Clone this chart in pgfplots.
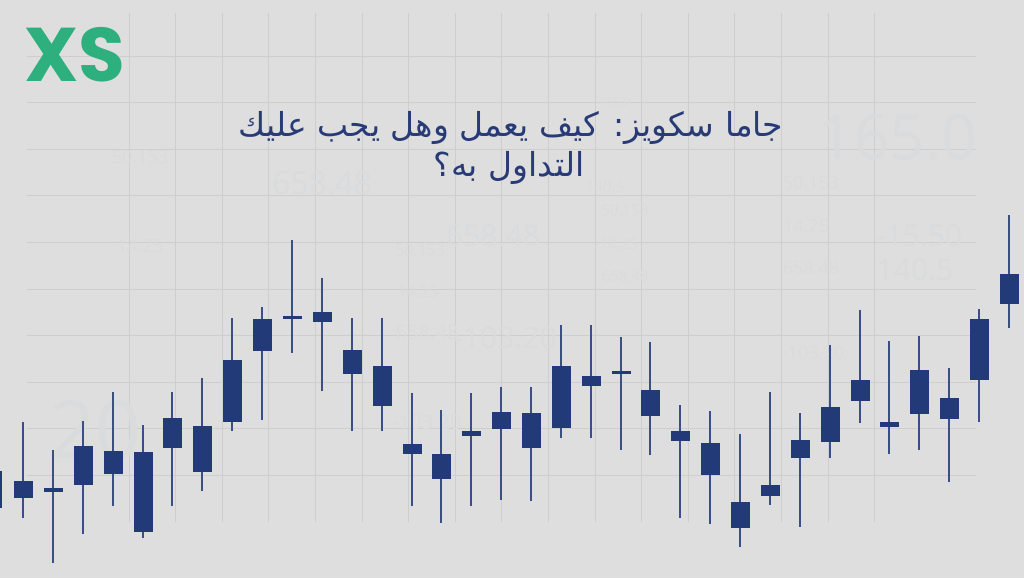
\documentclass[border=0pt]{standalone}
\usepackage{pgfplots}
\pgfplotsset{compat=1.18}
\usepackage{pgfplotstable}
\usepackage{fontspec}
\TeXXeTstate=1
\newfontfamily\arabicfont[Script=Arabic]{DejaVu Sans}
\newfontfamily\logofont{Poppins}
\newfontfamily\numfont{Open Sans}
\definecolor{bgc}{HTML}{DEDEDE}
\definecolor{gridc}{HTML}{CECECE}
\definecolor{body}{HTML}{233A78}
\definecolor{wick}{HTML}{3A4E88}
\definecolor{titlec}{HTML}{283B76}
\definecolor{logoc}{HTML}{2EAF7E}
\definecolor{faint}{HTML}{D9DBDD}

% x, high, low, bodyhi, bodylo  (price units)
\pgfplotstableread{
x     high low bhi blo
-7    140  55  107 70
23    156  60  97  80
53    128  15  90  86
83    157  44  132 93
113   186  72  127 104
143   153  40  126 46
172   186  72  160 130
202   200  87  152 106
232   260  147 218 156
262   271  158 259 227
292   338  225 262 259
322   300  187 266 256
352   260  147 228 204
382   260  147 212 172
412   185  72  134 124
441   168  55  124 99
471   185  72  147 142
501   191  78  166 149
531   191  77  165 130
561   253  140 212 150
591   253  140 202 192
621   241  128 207 204
650   236  123 188 162
680   173  60  147 137
710   167  54  135 103
740   144  31  76  50
770   186  73  93  82
800   165  51  138 120
830   233  120 171 136
860   268  155 198 177
889   237  124 156 151
919   242  128 208 164
949   210  96  180 159
979   269  156 259 198
1009  363  250 304 274
}\candles

\begin{document}
\begin{tikzpicture}
\fill[bgc] (0,0) rectangle (1024pt,578pt);
% grid
\begin{axis}[
  at={(27pt,56pt)}, anchor=south west,
  scale only axis, width=949pt, height=509pt,
  xmin=27, xmax=976, ymin=56, ymax=565,
  axis line style={draw=none}, major tick length=0pt,
  xticklabels={}, yticklabels={},
  xtick={129,175.6,222.2,268.8,315.4,362,408.6,455.2,501.8,548.4,595,641.6,688.2,734.8,781.4,828,874.6},
  ytick={102.6,149.2,195.8,242.4,289,335.6,382.2,428.8,475.4,522},
  grid=major, major grid style={gridc, line width=0.9pt},
]
\end{axis}
% candles
\begin{axis}[
  at={(0pt,0pt)}, anchor=south west,
  scale only axis, width=1024pt, height=578pt,
  xmin=0, xmax=1024, ymin=0, ymax=578,
  axis lines=none,
]
% faint background numbers
\begin{scope}[every node/.style={text=faint, inner sep=0pt}]
\node[font=\numfont\fontsize{62}{62}\selectfont] at (axis cs:898,441) {165.0};
\node[font=\numfont\fontsize{30}{30}\selectfont] at (axis cs:919,342) {-15.50};
\node[font=\numfont\fontsize{30}{30}\selectfont] at (axis cs:915,308) {140.5};
\node[font=\numfont\fontsize{18}{18}\selectfont] at (axis cs:811,395) {50.153};
\node[font=\numfont\fontsize{18}{18}\selectfont] at (axis cs:806,352) {14.25};
\node[font=\numfont\fontsize{18}{18}\selectfont] at (axis cs:811,310) {658.48};
\node[font=\numfont\fontsize{18}{18}\selectfont] at (axis cs:813,225) {-103.20};
\node[font=\numfont\fontsize{12}{12}\selectfont] at (axis cs:615,476) {165.0};
\node[font=\numfont\fontsize{15}{15}\selectfont] at (axis cs:605,391) {140.5};
\node[font=\numfont\fontsize{15}{15}\selectfont] at (axis cs:625,368) {50.153};
\node[font=\numfont\fontsize{15}{15}\selectfont] at (axis cs:619,334) {14.25};
\node[font=\numfont\fontsize{15}{15}\selectfont] at (axis cs:625,302) {658.48};
\node[font=\numfont\fontsize{32}{32}\selectfont] at (axis cs:322,395) {658.48};
\node[font=\numfont\fontsize{30}{30}\selectfont] at (axis cs:493,342) {658.48};
\node[font=\numfont\fontsize{16}{16}\selectfont] at (axis cs:420,328) {50.153};
\node[font=\numfont\fontsize{16}{16}\selectfont] at (axis cs:418,286) {14.25};
\node[font=\numfont\fontsize{30}{30}\selectfont] at (axis cs:505,240) {-103.20};
\node[font=\numfont\fontsize{20}{20}\selectfont] at (axis cs:427,246) {658.48};
\node[font=\numfont\fontsize{20}{20}\selectfont] at (axis cs:427,156) {-103.20};
\node[font=\numfont\fontsize{18}{18}\selectfont] at (axis cs:140,421) {50.153};
\node[font=\numfont\fontsize{18}{18}\selectfont] at (axis cs:140,332) {14.25};
\node[font=\numfont\fontsize{80}{80}\selectfont] at (axis cs:95,148) {20};
\end{scope}
% wicks
\addplot[draw=none, mark=none,
  error bars/.cd, y dir=plus, y explicit, error mark=none,
  error bar style={draw=wick, line width=1.4pt}]
  table[x=x, y=low, y error expr=\thisrow{high}-\thisrow{low}] {\candles};
% bodies
\addplot[draw=none, mark=none,
  error bars/.cd, y dir=plus, y explicit, error mark=none,
  error bar style={draw=body, line width=19pt}]
  table[x=x, y=blo, y error expr=\thisrow{bhi}-\thisrow{blo}] {\candles};
% logo
\node[text=logoc, font=\logofont\bfseries\fontsize{76}{76}\selectfont, inner sep=0pt, anchor=center] at (axis cs:75,523) {XS};
% title
\node[text=titlec, font=\arabicfont\fontsize{33}{33}\selectfont, inner sep=0pt] at (axis cs:511,450) {\beginR جاما سكويز: كيف يعمل وهل يجب عليك\endR};
\node[text=titlec, font=\arabicfont\fontsize{33}{33}\selectfont, inner sep=0pt] at (axis cs:509,410) {\beginR التداول به؟\endR};
\end{axis}
\end{tikzpicture}
\end{document}
